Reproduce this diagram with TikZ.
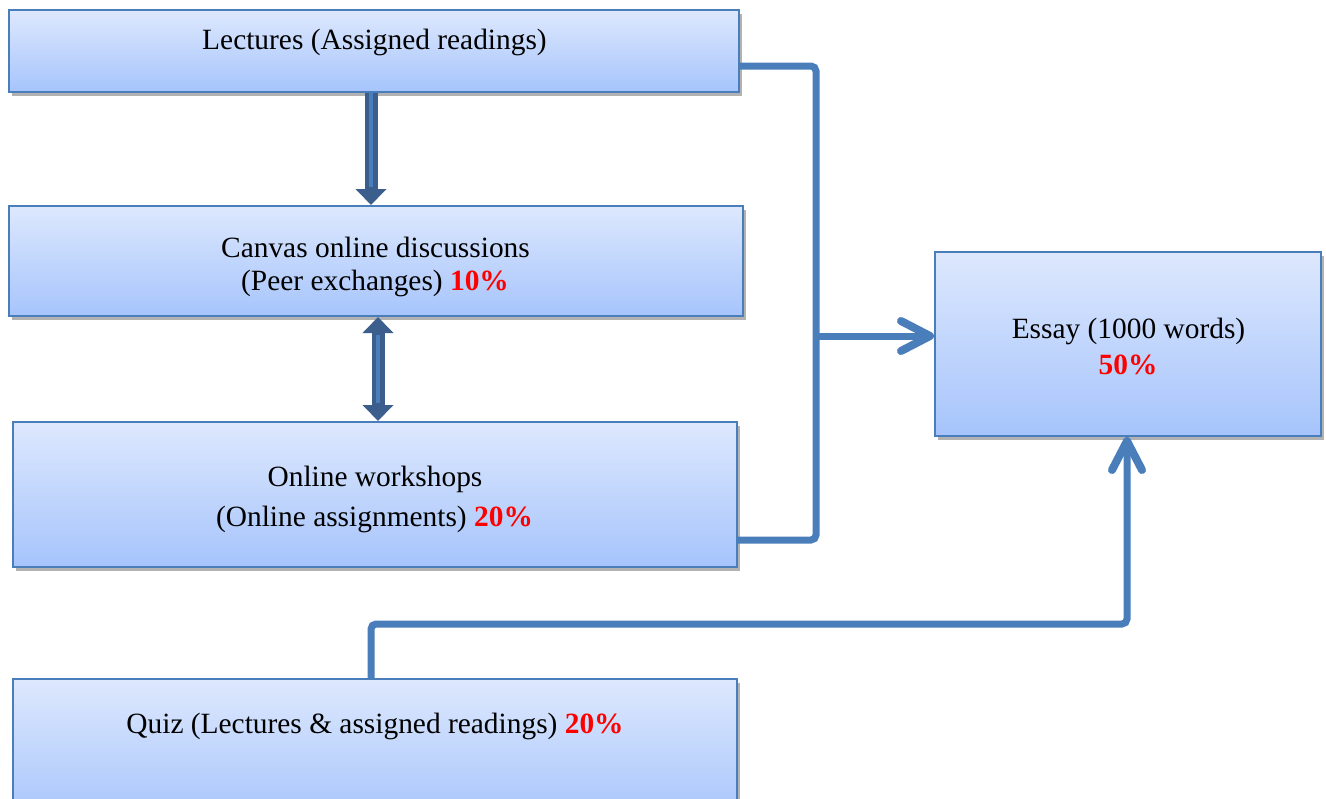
\documentclass[tikz,border=0pt]{standalone}
\usepackage{fontspec}
\setmainfont{Liberation Serif}
\usetikzlibrary{arrows.meta,shadows,calc}
\definecolor{boxtop}{HTML}{DDE8FD}
\definecolor{boxbot}{HTML}{A6C4FC}
\definecolor{boxline}{HTML}{4A7EBB}
\definecolor{linkblue}{HTML}{4A7EBB}
\definecolor{darkblue}{HTML}{3B5E8C}
\definecolor{pctred}{HTML}{FF0000}
\tikzset{
  box/.style={draw=boxline, line width=1pt, top color=boxtop, bottom color=boxbot,
    inner sep=0pt, drop shadow={shadow xshift=1.5pt, shadow yshift=-2pt, opacity=0.3, fill=black}},
  txt/.style={inner sep=0pt, font=\fontsize{14.7}{17}\selectfont},
  pct/.style={text=pctred, font=\fontsize{14.7}{17}\selectfont\bfseries},
  link/.style={draw=linkblue, line width=3.5pt, rounded corners=2.5pt},
  chevron/.style={draw=linkblue, line width=4pt, line cap=round, line join=round},
  darkarrow/.style={draw=darkblue, line width=6.5pt},
  darktip/.tip={Triangle[length=8pt, width=15pt]},
  innerline/.style={draw=linkblue, line width=1.8pt}
}
\begin{document}
\begin{tikzpicture}[x=0.5pt, y=-0.5pt]
\clip (0,0) rectangle (1326,798);
\fill[white] (0,0) rectangle (1326,798);
% boxes
\node[box, minimum width=365pt, minimum height=41pt] (L) at (374,51) {};
\node[box, minimum width=367pt, minimum height=55pt] (C) at (376,261) {};
\node[box, minimum width=362pt, minimum height=72.5pt] (W) at (375,494.5) {};
\node[box, minimum width=362pt, minimum height=72.5pt] (Q) at (375,751.5) {};
\node[box, minimum width=193pt, minimum height=92pt] (E) at (1128,344) {};
% texts
\node[txt] (Lt) at (374.5,42) {Lectures (Assigned readings)};
\node[txt] (Ct1) at (375.5,247) {Canvas online discussions};
\node[txt] (Ct2) at (375,283) {(Peer exchanges) \textcolor{pctred}{\textbf{10\%}}};
\node[txt] (Wt1) at (375,479) {Online workshops};
\node[txt] (Wt2) at (374.5,519) {(Online assignments) \textcolor{pctred}{\textbf{20\%}}};
\node[txt] (Qt) at (375,726) {Quiz (Lectures \& assigned readings) \textcolor{pctred}{\textbf{20\%}}};
\node[txt] (Et1) at (1128.5,331) {Essay (1000 words)};
\node[pct, inner sep=0pt] (Et2) at (1128,365) {50\%};
% dark arrows
\draw[darkarrow, -darktip] (L.south -| 371,0) -- (C.north -| 371,0);
\draw[innerline, shorten >=9pt] (L.south -| 371,0) -- (C.north -| 371,0);
\draw[darkarrow, darktip-darktip] (C.south -| 378,0) -- (W.north -| 378,0);
\draw[innerline, shorten >=9pt, shorten <=9pt] (C.south -| 378,0) -- (W.north -| 378,0);
% bracket
\coordinate (J) at (816,336);
\coordinate (Ein) at ($(E.west |- J)+(-4,0)$);
\draw[link] (L.east |- 0,66) -- (816,66) -- (816,540) -- (W.east |- 0,540);
\draw[link] (J) -- (Ein);
\draw[chevron] ($(Ein)+(-29,-15)$) -- (Ein) -- ($(Ein)+(-29,15)$);
% quiz link
\coordinate (Eup) at ($(E.south -| 1127,0)+(0,4)$);
\draw[link] (Q.north -| 371,0) -- (371,624) -- (1127,624) -- (Eup);
\draw[chevron] ($(Eup)+(-15,29)$) -- (Eup) -- ($(Eup)+(15,29)$);
\end{tikzpicture}
\end{document}
